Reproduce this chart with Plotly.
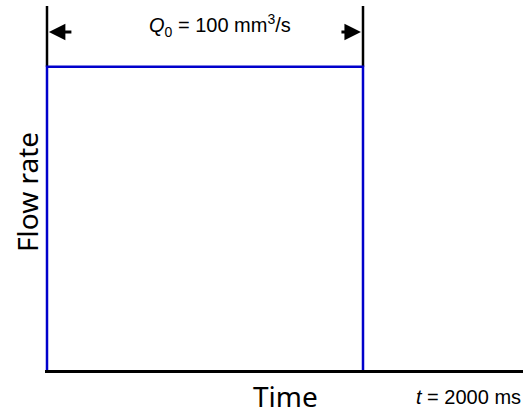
import plotly.graph_objects as go

# Rectangular flow pulse: constant rate Q0 from t = 0 to t = 2000 ms
time_ms = [0, 0, 2000, 2000]
flow_rate = [0, 100, 100, 0]

# Dimension marker lines rising above the pulse
dim_left_t = [0, 0]
dim_right_t = [2000, 2000]
dim_y = [100, 120]

X_MIN, X_MAX = -12.66, 3012.7
Y_MIN, Y_MAX = 0, 120

fig = go.Figure()

fig.add_trace(go.Scatter(x=dim_left_t, y=dim_y, mode="lines",
                         line=dict(color="black", width=2.5), hoverinfo="skip"))
fig.add_trace(go.Scatter(x=dim_right_t, y=dim_y, mode="lines",
                         line=dict(color="black", width=2.5), hoverinfo="skip"))
fig.add_trace(go.Scatter(x=time_ms, y=flow_rate, mode="lines",
                         line=dict(color="#0000CC", width=2.5)))

# Double arrow of the dimension (two arrowheads pointing outward)
arrow_y = 111.4
for tip_x, dx in [(12, 24), (1987, -21)]:
    fig.add_annotation(x=tip_x, y=arrow_y, xref="x", yref="y", ax=dx, ay=0,
                       showarrow=True, arrowhead=2, arrowsize=1.1, arrowwidth=3,
                       arrowcolor="black", standoff=0, text="")

fig.add_annotation(x=0.366, y=0.947, xref="paper", yref="paper",
                   text="<i>Q</i><sub>0</sub> = 100 mm<sup>3</sup>/s",
                   showarrow=False, xanchor="center", yanchor="middle",
                   font=dict(family="Liberation Sans, Arial", size=20, color="black"))

fig.add_annotation(x=0.504, y=-0.072, xref="paper", yref="paper", text="Time",
                   showarrow=False, xanchor="center", yanchor="middle",
                   font=dict(family="Noto Sans", size=28, color="black"))

fig.add_annotation(x=-0.0377, y=0.489, xref="paper", yref="paper", text="Flow rate",
                   textangle=-90, showarrow=False, xanchor="center", yanchor="middle",
                   font=dict(family="Noto Sans", size=28, color="black"))

fig.add_annotation(x=1.0, y=-0.074, xref="paper", yref="paper",
                   text="<i>t</i> = 2000 ms", showarrow=False,
                   xanchor="right", yanchor="middle",
                   font=dict(family="Liberation Sans, Arial", size=20, color="black"))

fig.update_layout(
    width=525, height=414,
    margin=dict(l=45, r=2, t=6, b=44),
    paper_bgcolor="white", plot_bgcolor="white",
    showlegend=False,
    xaxis=dict(range=[X_MIN, X_MAX], showgrid=False, zeroline=False,
               showticklabels=False, ticks="", showline=True,
               linecolor="black", linewidth=3),
    yaxis=dict(range=[Y_MIN, Y_MAX], showgrid=False, zeroline=False,
               showticklabels=False, ticks="", showline=False),
)

fig.write_html("out.html")
